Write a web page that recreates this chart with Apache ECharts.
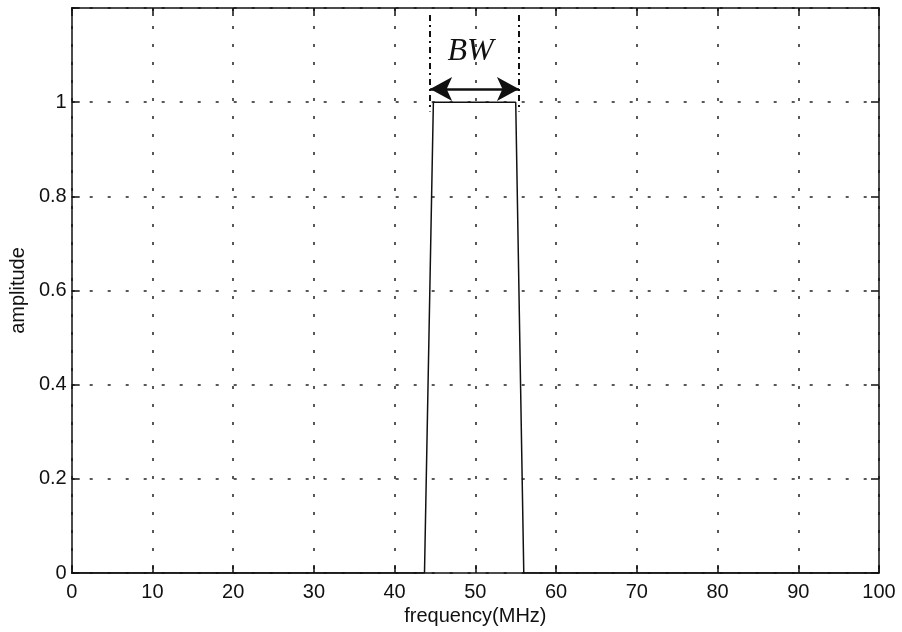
<!DOCTYPE html>
<html>
<head>
<meta charset="utf-8">
<script src="https://cdn.jsdelivr.net/npm/echarts@6/dist/echarts.min.js"></script>
<style>
html,body{margin:0;padding:0;background:#fff;}
#chart{width:902px;height:632px;}
</style>
</head>
<body>
<div id="chart"></div>
<script>
// Data
var frequency = [0, 43.7, 44.8, 55.0, 56.0, 100];
var amplitude = [0, 0, 1, 1, 0, 0];
var xTicks = [0, 10, 20, 30, 40, 50, 60, 70, 80, 90, 100];
var yTicks = [0, 0.2, 0.4, 0.6, 0.8, 1];
var bwLeft = 44.4;
var bwRight = 55.4;
var bwArrowY = 1.028;
var bwLineTop = 1.185;
var bwLineBottom = 0.98;
var bwLabel = 'BW';
var bwLabelPos = [49.4, 1.108];

var chart = echarts.init(document.getElementById('chart'), null, {renderer: 'canvas'});
var font = "'Liberation Sans', Arial, Helvetica, sans-serif";
var gridLine = {show: true, lineStyle: {color: '#222', width: 1.5, type: [3, 15]}};
var axisLine = {show: true, onZero: false, lineStyle: {color: '#111', width: 1.5}};
var tick = {show: true, inside: true, length: 8, lineStyle: {color: '#111', width: 1.5}};

var points = frequency.map(function (f, i) { return [f, amplitude[i]]; });

var option = {
  animation: false,
  backgroundColor: '#fff',
  grid: {left: 67, right: 23, top: 8, bottom: 59, containLabel: false},
  xAxis: [{
    type: 'value', min: 0, max: 100, interval: 10, position: 'bottom',
    name: 'frequency(MHz)', nameLocation: 'middle', nameGap: 30,
    nameTextStyle: {color: '#111', fontSize: 20, fontFamily: font},
    axisLine: axisLine, axisTick: tick, splitLine: gridLine,
    axisLabel: {color: '#111', fontSize: 20, fontFamily: font, margin: 9,
      formatter: function (v) { return xTicks.indexOf(v) >= 0 ? String(v) : ''; }}
  }, {
    type: 'value', min: 0, max: 100, interval: 10, position: 'top',
    axisLine: axisLine, axisTick: tick, splitLine: {show: false}, axisLabel: {show: false}
  }],
  yAxis: [{
    type: 'value', min: 0, max: 1.2, interval: 0.2, position: 'left',
    name: 'amplitude', nameLocation: 'middle', nameGap: 34,
    nameTextStyle: {color: '#111', fontSize: 20, fontFamily: font},
    axisLine: axisLine, axisTick: tick, splitLine: gridLine,
    axisLabel: {color: '#111', fontSize: 20, fontFamily: font, margin: 5,
      formatter: function (v) {
        for (var i = 0; i < yTicks.length; i++) {
          if (Math.abs(yTicks[i] - v) < 1e-6) return String(yTicks[i]);
        }
        return '';
      }}
  }, {
    type: 'value', min: 0, max: 1.2, interval: 0.2, position: 'right',
    axisLine: axisLine, axisTick: tick, splitLine: {show: false}, axisLabel: {show: false}
  }],
  series: [{
    type: 'line', data: points, symbol: 'none',
    lineStyle: {color: '#111', width: 1.5}, z: 5,
    markLine: {
      silent: true, symbol: ['none', 'none'], label: {show: false},
      lineStyle: {color: '#111', width: 2, type: [6, 4, 2, 4]},
      data: [
        [{coord: [bwLeft, bwLineTop]}, {coord: [bwLeft, bwLineBottom]}],
        [{coord: [bwRight, bwLineTop]}, {coord: [bwRight, bwLineBottom]}]
      ]
    }
  }, {
    type: 'line', data: [], symbol: 'none',
    markLine: {
      silent: true, symbol: ['arrow', 'arrow'], symbolSize: [18, 22], label: {show: false},
      lineStyle: {color: '#111', width: 2.5, type: 'solid'},
      data: [[{coord: [bwLeft, bwArrowY]}, {coord: [bwRight, bwArrowY]}]]
    },
    markPoint: {
      silent: true, symbol: 'circle', symbolSize: 1,
      itemStyle: {color: 'rgba(0,0,0,0)'},
      label: {show: true, position: 'inside', formatter: bwLabel, color: '#111',
        fontFamily: "'Liberation Serif', 'Times New Roman', serif", fontStyle: 'italic', fontSize: 32},
      data: [{coord: bwLabelPos}]
    }
  }]
};
chart.setOption(option);
</script>
</body>
</html>
